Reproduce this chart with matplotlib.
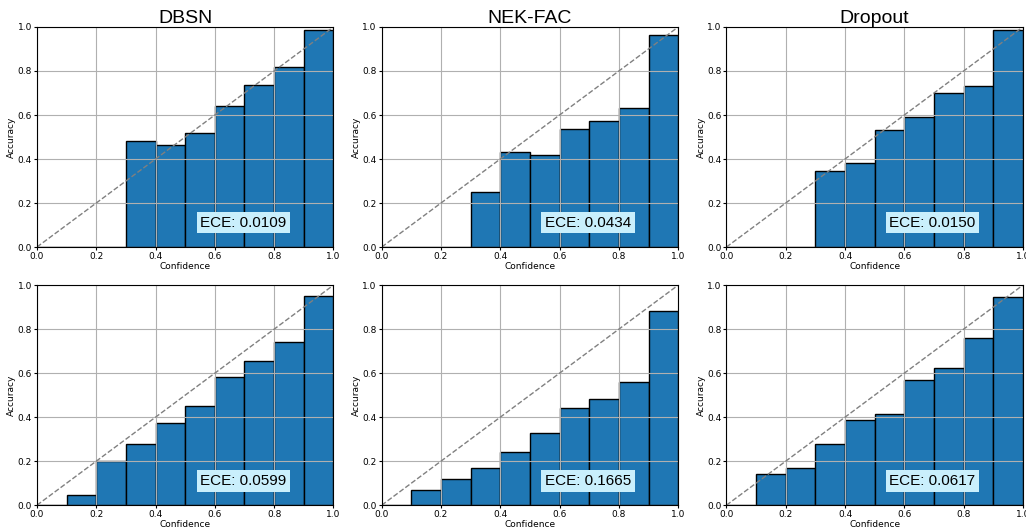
import matplotlib.pyplot as plt
import numpy as np

# bin edges (10 equal bins on [0, 1])
bin_lefts = np.arange(0.0, 1.0, 0.1)

titles = ["DBSN", "NEK-FAC", "Dropout"]

# top row accuracies per bin
acc_dbsn_top = [0, 0, 0, 0.483, 0.462, 0.517, 0.640, 0.737, 0.818, 0.988]
acc_nek_top = [0, 0, 0, 0.250, 0.430, 0.420, 0.535, 0.572, 0.632, 0.965]
acc_drop_top = [0, 0, 0, 0.347, 0.380, 0.532, 0.590, 0.700, 0.732, 0.986]

# bottom row accuracies per bin
acc_dbsn_bot = [0, 0.045, 0.200, 0.280, 0.373, 0.453, 0.582, 0.656, 0.742, 0.952]
acc_nek_bot = [0, 0.067, 0.120, 0.170, 0.242, 0.328, 0.440, 0.483, 0.560, 0.883]
acc_drop_bot = [0, 0.142, 0.170, 0.280, 0.387, 0.415, 0.567, 0.625, 0.758, 0.948]

ece_top = ["0.0109", "0.0434", "0.0150"]
ece_bot = ["0.0599", "0.1665", "0.0617"]

rows = [
    [acc_dbsn_top, acc_nek_top, acc_drop_top],
    [acc_dbsn_bot, acc_nek_bot, acc_drop_bot],
]
eces = [ece_top, ece_bot]

fig = plt.figure(figsize=(10.26, 5.29), dpi=100)

lefts = [0.036, 0.372, 0.708]
bottoms = [0.533, 0.045]
w, h = 0.289, 0.416

for r in range(2):
    for c in range(3):
        ax = fig.add_axes([lefts[c], bottoms[r], w, h])
        ax.bar(bin_lefts, rows[r][c], width=0.1, align='edge',
               color='#1f77b4', edgecolor='black', linewidth=1)
        ax.plot([0, 1], [0, 1], linestyle='--', color='gray', linewidth=1)
        ax.set_xlim(0, 1)
        ax.set_ylim(0, 1)
        ax.grid(True)
        ax.tick_params(labelsize=6.5, length=2, pad=1.5)
        ax.set_xlabel('Confidence', fontsize=6.5, labelpad=1)
        ax.set_ylabel('Accuracy', fontsize=6.5, labelpad=1)
        ax.text(0.55, 0.11, "ECE: " + eces[r][c], fontsize=11,
                family='Liberation Sans', va='center', ha='left',
                bbox=dict(facecolor='#c9effc', edgecolor='none', pad=2.5))
        if r == 0:
            ax.set_title(titles[c], fontsize=14, family='Liberation Sans', pad=3)

plt.savefig('out.png', dpi=100)
